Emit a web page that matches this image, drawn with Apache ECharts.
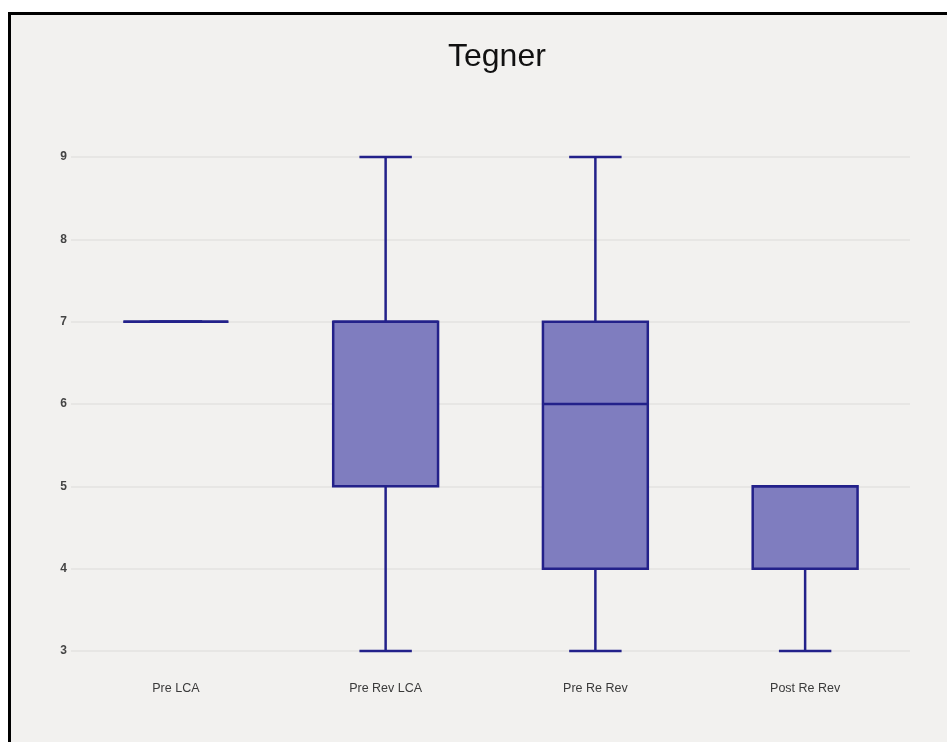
<!DOCTYPE html>
<html>
<head>
<meta charset="utf-8">
<script src="https://cdn.jsdelivr.net/npm/echarts@6/dist/echarts.min.js"></script>
<style>
  html, body { margin: 0; padding: 0; background: #ffffff; }
  #frame {
    position: absolute; left: 8px; top: 12px; width: 950px; height: 740px;
    border-left: 3px solid #000; border-top: 3px solid #000;
    background: #f2f1ef;
  }
  #chart { position: absolute; left: 0; top: 0; width: 947px; height: 742px; }
</style>
</head>
<body>
<div id="frame"></div>
<div id="chart"></div>
<script>
// Tegner activity scores per stage
const categories = ['Pre LCA', 'Pre Rev LCA', 'Pre Re Rev', 'Post Re Rev'];
const minValues    = [7, 3, 3, 3];
const q1Values     = [7, 5, 4, 4];
const medianValues = [7, 7, 6, 5];
const q3Values     = [7, 7, 7, 5];
const maxValues    = [7, 9, 9, 5];
const yTicks = [3, 4, 5, 6, 7, 8, 9];

const boxData = categories.map((c, i) =>
  [i, minValues[i], q1Values[i], medianValues[i], q3Values[i], maxValues[i]]);

const stroke = '#23218a';
const fill = '#7f7dbf';

function renderBox(params, api) {
  const x = api.value(0);
  const band = api.size([1, 0])[0];
  const half = band * 0.25;
  const cap = band * 0.125;
  const pMin = api.coord([x, api.value(1)]);
  const pQ1 = api.coord([x, api.value(2)]);
  const pMed = api.coord([x, api.value(3)]);
  const pQ3 = api.coord([x, api.value(4)]);
  const pMax = api.coord([x, api.value(5)]);
  const cx = pMed[0];
  const lineStyle = { stroke: stroke, lineWidth: 2.5, fill: null };
  return {
    type: 'group',
    children: [
      { type: 'line', shape: { x1: cx, y1: pQ3[1], x2: cx, y2: pMax[1] }, style: lineStyle },
      { type: 'line', shape: { x1: cx, y1: pQ1[1], x2: cx, y2: pMin[1] }, style: lineStyle },
      { type: 'line', shape: { x1: cx - cap, y1: pMax[1], x2: cx + cap, y2: pMax[1] }, style: lineStyle },
      { type: 'line', shape: { x1: cx - cap, y1: pMin[1], x2: cx + cap, y2: pMin[1] }, style: lineStyle },
      { type: 'rect', shape: { x: cx - half, y: pQ3[1], width: half * 2, height: pQ1[1] - pQ3[1] },
        style: { fill: fill, stroke: stroke, lineWidth: 2.5 } },
      { type: 'line', shape: { x1: cx - half, y1: pMed[1], x2: cx + half, y2: pMed[1] }, style: lineStyle }
    ]
  };
}

const chart = echarts.init(document.getElementById('chart'), null, { renderer: 'canvas' });
chart.setOption({
  backgroundColor: 'transparent',
  animation: false,
  title: {
    text: 'Tegner',
    left: 443,
    top: 36,
    textStyle: { fontFamily: 'Liberation Sans', fontSize: 32, fontWeight: 'normal', color: '#111' }
  },
  grid: { left: 71, right: 37, top: 157, bottom: 91, containLabel: false },
  xAxis: {
    type: 'category',
    data: categories,
    axisLine: { show: false },
    axisTick: { show: false },
    splitLine: { show: false },
    axisLabel: { margin: 31, fontFamily: 'Liberation Sans', fontSize: 12.5, color: '#3a3a3a' }
  },
  yAxis: {
    type: 'value',
    min: yTicks[0],
    max: yTicks[yTicks.length - 1],
    interval: 1,
    axisLine: { show: false },
    axisTick: { show: false },
    splitLine: { lineStyle: { color: '#e3e2e1', width: 1.5 } },
    axisLabel: { margin: 4, fontFamily: 'Liberation Sans', fontSize: 12, color: '#444', fontWeight: 'bold' }
  },
  series: [{
    type: 'custom',
    renderItem: renderBox,
    encode: { x: 0, y: [1, 2, 3, 4, 5] },
    data: boxData
  }]
});
</script>
</body>
</html>
